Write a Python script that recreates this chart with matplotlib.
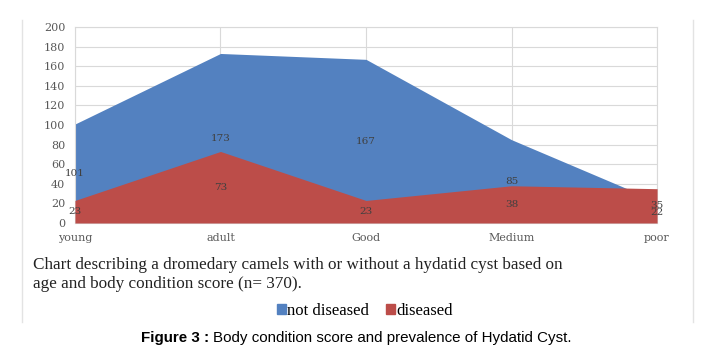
import matplotlib.pyplot as plt
from matplotlib.lines import Line2D
from matplotlib.patches import Patch
import numpy as np

# categorias y series
categorias = ["young", "adult", "Good", "Medium", "poor"]
no_enfermos = [101, 173, 167, 85, 22]
enfermos = [23, 73, 23, 38, 35]
ticks_y = [0, 20, 40, 60, 80, 100, 120, 140, 160, 180, 200]

azul = "#5381c0"
rojo = "#bc4d49"
gris = "#595959"

fig = plt.figure(figsize=(7.16, 3.62), dpi=100)
ax = fig.add_axes([0.1047, 0.384, 0.813, 0.5414])

x = np.arange(len(categorias))
# las areas no estan apiladas, la roja se dibuja encima de la azul
ax.fill_between(x, 0, no_enfermos, color=azul, linewidth=0, zorder=2)
ax.fill_between(x, 0, enfermos, color=rojo, linewidth=0, zorder=3)

# etiquetas de datos en la mitad de cada valor
for serie in (no_enfermos, enfermos):
    for xi, v in zip(x, serie):
        ax.text(xi, v / 2, str(v), ha="center", va="center", fontsize=7.5,
                color="#404040", family="DejaVu Serif", zorder=4)

ax.set_xlim(0, len(categorias) - 1)
ax.set_ylim(0, 200)
ax.set_yticks(ticks_y)
ax.set_xticks(x)
ax.set_xticklabels(categorias)
for lbl in ax.get_yticklabels() + ax.get_xticklabels():
    lbl.set_family("DejaVu Serif")
    lbl.set_fontsize(8)
    lbl.set_color(gris)
ax.tick_params(axis="y", length=0, pad=7)
ax.tick_params(axis="x", length=0, pad=7)

ax.grid(True, color="#d9d9d9", linewidth=0.8, zorder=0)
ax.set_axisbelow(True)
for lado in ["top", "right", "left", "bottom"]:
    ax.spines[lado].set_color("#d9d9d9")
    ax.spines[lado].set_linewidth(0.8)

# lineas verticales del recuadro
fig.add_artist(Line2D([22 / 716, 22 / 716], [1 - 20 / 362, 1 - 322 / 362],
                      color="#e3e3e3", linewidth=1))
fig.add_artist(Line2D([693 / 716, 693 / 716], [1 - 20 / 362, 1 - 322 / 362],
                      color="#e3e3e3", linewidth=1))

fig.text(33 / 716, 1 - 265 / 362,
         "Chart describing a dromedary camels with or without a hydatid cyst based on",
         family="Liberation Serif", fontsize=12.3, color="#222222", va="center")
fig.text(33 / 716, 1 - 284 / 362,
         "age and body condition score (n= 370).",
         family="Liberation Serif", fontsize=12.3, color="#222222", va="center")

manejadores = [Patch(color=azul, label="not diseased"),
               Patch(color=rojo, label="diseased")]
fig.legend(handles=manejadores, loc="center", bbox_to_anchor=(365 / 716, 1 - 311 / 362),
           ncol=2, frameon=False, handlelength=0.55, handleheight=0.55,
           handletextpad=0.1, columnspacing=1.0, borderpad=0,
           prop={"family": "Liberation Serif", "size": 12})

fig.text(141 / 716, 1 - 338 / 362, "Figure 3 :", family="Liberation Sans",
         fontsize=10.9, fontweight="bold", va="center", ha="left")
fig.text(213 / 716, 1 - 338 / 362, "Body condition score and prevalence of Hydatid Cyst.",
         family="Liberation Sans", fontsize=10.9, va="center", ha="left")

fig.savefig("out.png", dpi=100)
